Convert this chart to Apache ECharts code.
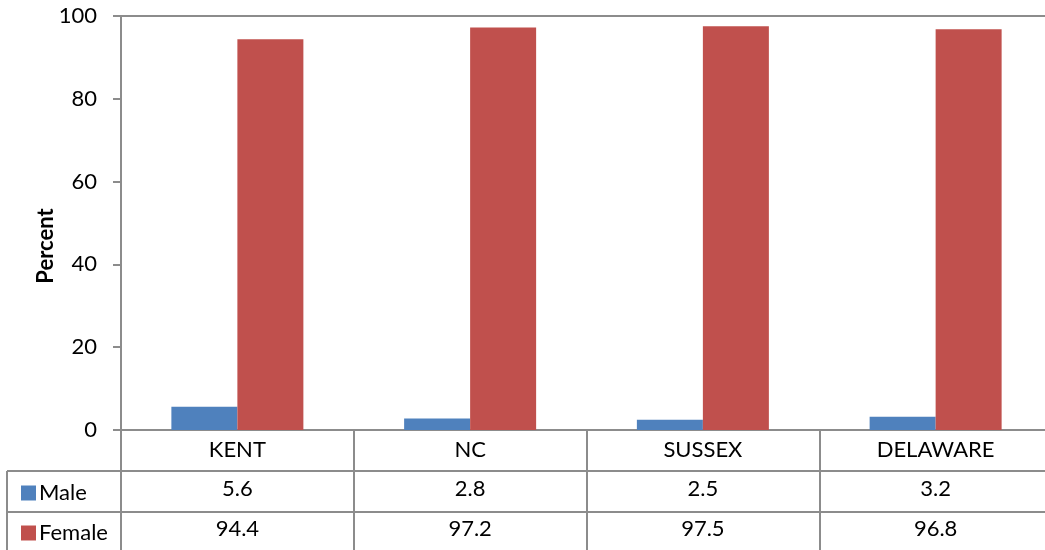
<!DOCTYPE html>
<html>
<head>
<meta charset="utf-8">
<script src="https://cdn.jsdelivr.net/npm/echarts@6/dist/echarts.min.js"></script>
<style>
  html, body { margin: 0; padding: 0; background: #fff; }
  #main { width: 1045px; height: 550px; }
</style>
</head>
<body>
<div id="main"></div>
<script>
// 数据
var categories = ['KENT', 'NC', 'SUSSEX', 'DELAWARE'];
var maleValues = [5.6, 2.8, 2.5, 3.2];
var femaleValues = [94.4, 97.2, 97.5, 96.8];
var yTicks = { min: 0, max: 100, interval: 20 };

var grey = '#8c8c8c';
var font = 'Lato, "Open Sans", sans-serif';
var fs = 22;

var chart = echarts.init(document.getElementById('main'), null, { renderer: 'canvas' });

// 表格里的数值行用额外的类目轴来画
function valueAxis(values, offset) {
  return {
    type: 'category',
    position: 'bottom',
    offset: offset,
    data: values.map(function (v) { return v.toFixed(1); }),
    axisLine: { show: false },
    axisTick: { show: false },
    axisLabel: { margin: 9, fontSize: fs, color: '#000', fontFamily: font }
  };
}

function legendRow(name, top) {
  return {
    orient: 'vertical',
    left: 16,
    top: top,
    itemWidth: 15,
    itemHeight: 15,
    itemGap: 0,
    icon: 'rect',
    textStyle: { fontSize: fs, color: '#000', fontFamily: font, padding: [0, 0, 0, -2] },
    data: [name]
  };
}

var option = {
  animation: false,
  grid: { left: 121, top: 16, width: 931, height: 414, containLabel: false, outerBoundsMode: 'none' },
  legend: [legendRow('Male', 477), legendRow('Female', 517)],
  xAxis: [
    {
      type: 'category',
      position: 'bottom',
      data: categories,
      axisLine: { lineStyle: { color: grey, width: 2 } },
      axisTick: { show: true, length: 120, interval: 0, lineStyle: { color: grey, width: 2 } },
      axisLabel: { margin: 9, fontSize: fs, color: '#000', fontFamily: font }
    },
    valueAxis(maleValues, 39),
    valueAxis(femaleValues, 79)
  ],
  yAxis: {
    type: 'value',
    min: yTicks.min,
    max: yTicks.max,
    interval: yTicks.interval,
    axisLine: { show: true, lineStyle: { color: grey, width: 2 } },
    axisTick: { show: true, length: 8, lineStyle: { color: grey, width: 2 } },
    axisLabel: { margin: 24, fontSize: fs, color: '#000', fontFamily: font },
    splitLine: { show: false }
  },
  series: [
    {
      name: 'Male',
      type: 'bar',
      data: maleValues,
      barWidth: 66,
      barGap: '0%',
      itemStyle: { color: '#4f81bd' },
      markLine: {
        silent: true,
        symbol: 'none',
        label: { show: false },
        lineStyle: { color: grey, width: 2, type: 'solid' },
        data: [{ yAxis: yTicks.max }]
      }
    },
    {
      name: 'Female',
      type: 'bar',
      data: femaleValues,
      barWidth: 66,
      itemStyle: { color: '#c0504d' }
    }
  ],
  graphic: [
    {
      type: 'text',
      x: 46,
      y: 246,
      rotation: Math.PI / 2,
      style: {
        text: 'Percent',
        font: 'bold 22px ' + font,
        fill: '#000',
        align: 'center',
        verticalAlign: 'middle'
      }
    },
    { type: 'line', shape: { x1: 7, y1: 471, x2: 1045, y2: 471 }, style: { stroke: grey, lineWidth: 2 } },
    { type: 'line', shape: { x1: 7, y1: 512, x2: 1045, y2: 512 }, style: { stroke: grey, lineWidth: 2 } },
    { type: 'line', shape: { x1: 7, y1: 471, x2: 7, y2: 550 }, style: { stroke: grey, lineWidth: 2 } }
  ]
};

chart.setOption(option);
</script>
</body>
</html>
